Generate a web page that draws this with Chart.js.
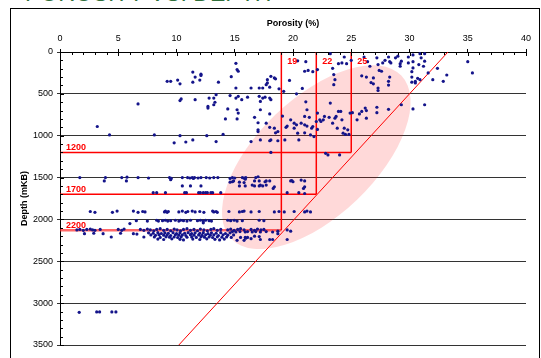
<!DOCTYPE html>
<html>
<head>
<meta charset="utf-8">
<script src="https://cdn.jsdelivr.net/npm/chart.js@4.4.1/dist/chart.umd.min.js"></script>
<style>
  body { margin: 0; width: 541px; height: 358px; overflow: hidden; background: #fff; font-family: "Liberation Sans", Arial, sans-serif; }
  #title { position: absolute; left: 25px; top: -20px; font-size: 23px; color: #2f6f3a; white-space: nowrap; }
  #frame { position: absolute; left: 10px; top: 8px; width: 530px; height: 360px; border: 1px solid #000; box-sizing: border-box; }
  #wrap { position: absolute; left: 0; top: 0; }
</style>
</head>
<body>
<div id="title">POROSITY VS. DEPTH</div>
<div id="frame"></div>
<div id="wrap"><canvas id="chart" width="541" height="358"></canvas></div>
<script>
// samples: [porosity %, depth mKB]
const shallowPts = [
  [23.2,20],[24.4,60],[26.1,60],[27.2,70],[28.2,60],[28.8,70],[29.0,50],[29.9,60],[30.3,35],[30.9,20],[31.3,20],[31.0,70],
  [21.1,115],[23.9,140],[24.2,130],[24.6,140],[25.0,100],[26.4,115],[27.3,150],[27.7,130],[27.9,100],[28.3,115],[28.4,130],
  [29.2,140],[29.3,110],[29.9,130],[30.3,115],[31.3,110],[30.8,150],
  [21.0,230],[21.3,220],[21.7,235],[22.1,210],[23.4,195],[26.6,170],[27.4,220],[27.6,230],[29.2,170],[30.3,190],[30.2,235],
  [31.2,170],[31.6,250],[32.4,195],[33.2,275],[35.4,250],[35.0,115],
  [23.5,270],[23.6,330],[23.5,390],[25.9,285],[26.3,300],[26.7,365],[26.9,310],[26.9,380],[27.3,430],[27.3,460],[28.3,300],
  [28.2,350],[28.2,395],[30.2,300],[30.2,360],[30.5,350],[30.9,330],[30.7,315],[30.5,370],[32.0,330],[32.9,350],[20.8,435],
  [15.1,135],[15.2,210],[15.3,230],[11.4,240],[12.1,265],[12.1,280],[11.6,300],[11.4,360],[12.0,335],[9.2,350],[9.5,350],
  [10.1,335],[10.3,380],[13.6,360],[14.7,295],[15.1,430],[16.4,430],[17.8,330],[18.1,290],[18.4,310],[18.5,320],[17.7,390],
  [17.8,370],[17.1,430],[17.4,430],[18.0,420],[18.8,440],[19.2,470],[19.7,340],[20.3,500],[20.4,105],
  [10.4,560],[11.6,570],[12.8,550],[13.2,550],[13.4,510],[14.6,520],[15.1,550],[15.3,530],[15.6,570],[16.1,540],[17.1,530],
  [17.4,550],[17.6,540],[18.0,550],[18.1,570],
  [10.3,580],[13.3,600],[13.2,630],[12.7,650],[12.7,670],[17.2,590],[14.4,680],[15.2,690],[15.3,730],[14.2,800],[15.2,800],
  [6.7,620],[3.2,890],[4.25,990],[8.1,990],[10.3,1000],[12.6,1000],[14.0,985],[17.0,950],[17.2,690],[18.0,740],
  [16.7,780],[17.0,845],[17.0,930],[17.7,850],[18.0,900],[18.4,910],[18.5,965],[18.7,950],[19.1,765],[19.4,900],[19.8,810],
  [20.1,850],[20.1,910],[20.3,870],[21.0,770],[21.0,870],[21.1,595],[21.2,690],[21.4,780],[21.6,910],[21.7,890],[22.0,830],
  [22.1,925],[22.1,730],[22.3,810],[22.4,830],[22.6,810],[22.7,770],[23.1,780],[23.2,610],[23.4,850],[23.6,790],[23.7,770],
  [23.8,910],[23.9,710],[24.1,710],[24.2,810],[24.3,970],[24.4,910],[24.5,985],[24.7,930],[24.8,985],[24.9,730],[25.1,725],
  [25.5,810],[25.7,740],[25.9,710],[26.2,670],[26.3,790],[26.3,700],[27.2,725],[27.2,660],[28.2,685],[29.3,630],[30.3,680],
  [31.3,630],[19.5,885],[20.7,850],[21.2,885],[20.4,970],[21.0,965],[21.5,990]
];

const middlePts = [
  [9.8,1085],[10.8,1075],[11.4,1050],[13.4,1070],[16.4,1070],[17.2,1050],[18.1,1050],[20.5,1050],[21.8,1010],[19.3,1050],
  [18.7,1060],[18.0,1060],[22.8,1210],[23.0,1230],[24.0,1230],[18.1,1200],
  [1.7,1500],[3.9,1500],[5.3,1500],[5.75,1495],[6.7,1500],[7.6,1505],[9.4,1500],[9.55,1510],[10.5,1500],[10.95,1500],
  [11.15,1505],[11.35,1500],[11.45,1510],[11.55,1500],[11.85,1505],[12.1,1500],[12.55,1500],[12.85,1505],[13.2,1500],
  [13.55,1500],[14.6,1510],[14.8,1500],[15.0,1505],[15.65,1500],[15.8,1505],[15.95,1500],
  [3.8,1540],[5.7,1540],[9.5,1525],[14.6,1555],[14.8,1550],[15.4,1555],[15.8,1560],[10.5,1600],[11.2,1600],[12.1,1600],
  [15.4,1600],[15.9,1600],[15.9,1520],[14.9,1540],
  [8.0,1680],[8.3,1680],[9.05,1680],[10.7,1680],[10.85,1680],[11.9,1680],[12.05,1680],[12.3,1680],[12.5,1680],[12.65,1680],
  [12.95,1680],[13.1,1680],[13.8,1680],
  [16.7,1540],[16.8,1500],[17.0,1490],[17.1,1540],[16.7,1600],[17.1,1600],[17.4,1600],[17.7,1540],[18.0,1540],[18.3,1630],
  [19.8,1540],[19.9,1535],[21.0,1540],[20.9,1630],[19.5,1680],[20.5,1680],[16.5,1590],[17.2,1590],[17.7,1590],[20.0,1550],
  [18.4,1610],[20.7,1530],[21.0,1610],[21.0,1690],[17.6,1550]
];

const deepPts = [
  [2.6,1905],[3.0,1915],[4.5,1915],[4.9,1900],[6.3,1900],[6.7,1915],[7.1,1905],[7.3,1910],[8.97,1910],[9.05,1900],[9.2,1915],
  [9.3,1905],[10.2,1910],[10.5,1900],[10.8,1915],[10.97,1905],[11.35,1900],[11.6,1910],[12.0,1905],[12.35,1915],[13.1,1900],
  [13.2,1910],[13.4,1905],[13.5,1915],[14.5,1905],[15.4,1910],[15.65,1905],[15.8,1900],[16.4,1910],[17.1,1905],[18.4,1910],
  [18.8,1905],[19.25,1910],[20.1,1905],[21.0,1910],[21.2,1900],[21.5,1910],
  [6.55,2015],[7.5,2020],[8.3,2010],[8.45,2020],[8.8,2015],[9.05,2010],[9.25,2020],[9.5,2015],[9.9,2010],[10.2,2020],
  [10.35,2010],[10.6,2015],[10.9,2020],[11.2,2010],[11.8,2015],[12.05,2010],[12.3,2020],[12.5,2010],[12.8,2015],[13.0,2020],
  [14.4,2010],[14.65,2015],[14.95,2010],[15.2,2020],[15.65,2015],[17.1,2010],[17.5,2015],[6.0,2050],[12.3,2040],
  [1.45,2125],[1.7,2120],[2.0,2130],[2.3,2120],[2.6,2115],[2.8,2125],[3.0,2130],[3.45,2120],[5.0,2120],[5.3,2130],[5.5,2115],
  [6.9,2120],[7.2,2130],[7.5,2115],[7.75,2125],[8.05,2135],[8.3,2120],[8.6,2110],[8.9,2130],[9.2,2120],[9.5,2135],[9.8,2115],
  [10.05,2125],[10.35,2135],[10.6,2120],[10.9,2110],[11.2,2130],[11.5,2120],[11.8,2135],[12.05,2115],[12.35,2125],[12.65,2135],
  [12.95,2120],[13.2,2110],[13.5,2130],[13.8,2120],[14.4,2125],[14.65,2115],[14.95,2130],[15.25,2120],[15.5,2110],[15.8,2125],
  [16.4,2120],[16.7,2130],[16.95,2115],[17.25,2125],[17.5,2120],
  [14.8,2145],[15.1,2150],[15.45,2145],[15.9,2150],[16.1,2145],[16.5,2150],[16.8,2145],[17.2,2150],[17.7,2145],[18.25,2150],
  [18.7,2140],[19.8,2140],[19.5,2125],
  [2.1,2170],[2.9,2165],[3.7,2170],[5.2,2165],[6.3,2170],[6.6,2175],[4.4,2210],[7.2,2210],
  [7.6,2160],[8.0,2165],[8.4,2158],[8.7,2168],[9.0,2160],[9.3,2165],[9.7,2158],[10.0,2170],[10.3,2160],[10.7,2165],[11.0,2158],
  [11.3,2168],[11.6,2160],[12.0,2165],[12.3,2158],[12.7,2170],[13.0,2160],[13.4,2165],[13.8,2158],[14.2,2168],[14.6,2160],
  [7.8,2185],[8.2,2190],[8.5,2182],[8.9,2188],[9.2,2185],[9.5,2192],[9.9,2183],[10.2,2188],[10.5,2185],[10.8,2192],[11.2,2182],
  [11.5,2188],[11.9,2185],[12.2,2190],[12.5,2183],[12.9,2188],[13.2,2185],[13.6,2192],[14.0,2183],[14.4,2188],[14.9,2185],
  [8.1,2210],[8.6,2215],[9.1,2208],[9.4,2212],[9.8,2210],[10.1,2216],[10.4,2208],[10.9,2213],[11.3,2210],[11.7,2215],
  [12.1,2208],[12.4,2212],[12.8,2210],[13.1,2216],[13.5,2208],[13.9,2212],[14.3,2210],[14.7,2215],
  [8.4,2235],[8.9,2240],[9.6,2232],[10.3,2238],[10.6,2245],[11.4,2235],[12.0,2240],[12.6,2232],[13.3,2238],[13.7,2245],[14.1,2235],
  [15.2,2250],[15.5,2215],[15.8,2250],[15.9,2215],[16.1,2215],[16.4,2230],[16.7,2200],[17.2,2240],[18.0,2240],[18.25,2240],
  [18.7,2170],[19.5,2240],[15.95,2225],[17.1,2205],
  [1.65,3110],[3.15,3105],[3.4,3105],[4.45,3105],[4.8,3105]
];

// cut-off boxes
const cutoffPorosity = [19, 22, 25];
const cutoffDepth = [2130, 1700, 1200];
const cutoffDepthLabels = ['2200', '1700', '1200'];
// red trend line ends
const trendPorosity = [33.3, 10.2];
const trendDepth = [0, 3500];
// pink envelope: two ends of its long axis and width ratio
const envelopeEnds = [[14.7, 2230], [29.3, 282]];
const envelopeRatio = 0.5;

const xMax = 40, xStep = 5, xMinor = 1;
const yMax = 3500, yStep = 500, yMinor = 100;

const samples = shallowPts.concat(middlePts, deepPts).map(p => ({ x: p[0], y: p[1] }));

const datasets = [{
  label: 'samples',
  data: samples,
  pointRadius: 1.6,
  pointBackgroundColor: '#14148a',
  pointBorderWidth: 0,
  order: 0
}];

cutoffPorosity.forEach((p, i) => {
  const d = cutoffDepth[i];
  datasets.push({
    data: [{ x: p, y: d }, { x: p, y: 0 }],
    showLine: true, borderColor: '#ff0000', borderWidth: 1.5, pointRadius: 0, order: 1
  });
  datasets.push({
    data: [{ x: 0, y: d }, { x: p, y: d }],
    showLine: true,
    borderColor: i === 0 ? 'rgba(255,40,40,0.7)' : '#ff0000',
    borderWidth: i === 0 ? 2.5 : 1.5,
    pointRadius: 0, order: 1
  });
});
datasets.push({
  data: trendPorosity.map((p, i) => ({ x: p, y: trendDepth[i] })),
  showLine: true, borderColor: '#ff0000', borderWidth: 1, pointRadius: 0, order: 1
});

const overlay = {
  id: 'overlay',
  beforeDatasetsDraw(chart) {
    const { ctx, scales: { x, y } } = chart;
    const a = envelopeEnds[0], b = envelopeEnds[1];
    const x1 = x.getPixelForValue(a[0]), y1 = y.getPixelForValue(a[1]);
    const x2 = x.getPixelForValue(b[0]), y2 = y.getPixelForValue(b[1]);
    const half = Math.hypot(x2 - x1, y2 - y1) / 2;
    ctx.save();
    ctx.beginPath();
    ctx.ellipse((x1 + x2) / 2, (y1 + y2) / 2, half, half * envelopeRatio, Math.atan2(y2 - y1, x2 - x1), 0, Math.PI * 2);
    ctx.fillStyle = 'rgba(255,0,0,0.15)';
    ctx.fill();
    ctx.restore();
  },
  afterDatasetsDraw(chart) {
    const { ctx, chartArea: area, scales: { x, y } } = chart;
    ctx.save();
    ctx.strokeStyle = '#000';
    ctx.lineWidth = 1;
    ctx.beginPath();
    for (let v = 0; v <= xMax; v += xMinor) {
      const px = Math.round(x.getPixelForValue(v)) + 0.5;
      const major = v % xStep === 0;
      ctx.moveTo(px, area.top);
      ctx.lineTo(px, area.top + (major ? 4 : 3));
    }
    for (let v = 0; v <= yMax; v += yMinor) {
      const py = Math.round(y.getPixelForValue(v)) + 0.5;
      const major = v % yStep === 0;
      ctx.moveTo(area.left, py);
      ctx.lineTo(area.left + (major ? 4 : 3), py);
    }
    ctx.stroke();

    ctx.fillStyle = '#ff0000';
    ctx.font = 'bold 9px "Liberation Sans", Arial, sans-serif';
    ctx.textBaseline = 'middle';
    ctx.textAlign = 'left';
    cutoffPorosity.forEach((p, i) => {
      ctx.fillText(String(p), x.getPixelForValue(p) + 6, area.top + 10);
      ctx.fillText(cutoffDepthLabels[i], area.left + 6, y.getPixelForValue(cutoffDepth[i]) - 5);
    });
    ctx.restore();
  }
};

const tickFont = { family: '"Liberation Sans", Arial, sans-serif', size: 9 };
const titleFont = { family: '"Liberation Sans", Arial, sans-serif', size: 9, weight: 'bold' };

new Chart(document.getElementById('chart'), {
  type: 'scatter',
  data: { datasets },
  plugins: [overlay],
  options: {
    responsive: false,
    animation: false,
    events: [],
    layout: { padding: { left: 12, right: 15, top: 8, bottom: 13 } },
    plugins: { legend: { display: false }, tooltip: { enabled: false } },
    scales: {
      x: {
        type: 'linear', position: 'top', min: 0, max: xMax,
        ticks: { stepSize: xStep, font: tickFont, color: '#000', padding: 5, callback: v => String(v) },
        grid: { drawOnChartArea: false, tickLength: 3, color: '#000' },
        border: { display: true, color: '#000', width: 1 },
        title: { display: true, text: 'Porosity (%)', font: titleFont, color: '#000', padding: { top: 10, bottom: 0 } },
        afterFit(s) { s.height = 44; }
      },
      y: {
        type: 'linear', reverse: true, min: 0, max: yMax,
        ticks: { stepSize: yStep, font: tickFont, color: '#000', padding: 4, callback: v => String(v) },
        grid: { color: '#333', lineWidth: 1, tickLength: 3 },
        border: { display: true, color: '#000', width: 1 },
        title: { display: true, text: 'Depth (mKB)', font: titleFont, color: '#000', padding: { top: 7, bottom: 0 } },
        afterFit(s) { s.width = 48; }
      }
    }
  }
});
</script>
</body>
</html>
